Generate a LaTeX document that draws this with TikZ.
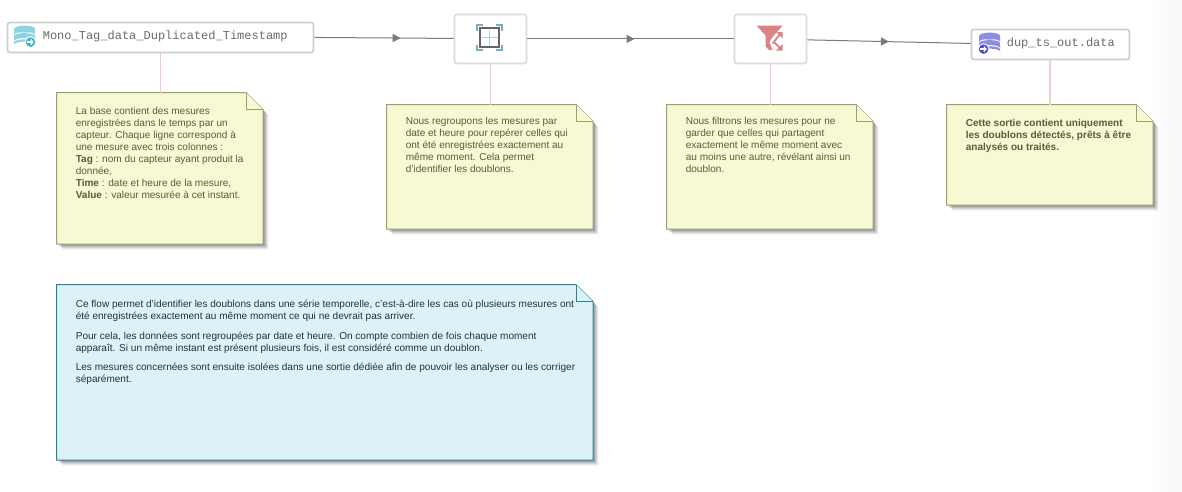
\documentclass[tikz,border=0pt]{standalone}
\usepackage{fontspec}
\setmainfont{Liberation Sans}
\setmonofont{Liberation Mono}
\usetikzlibrary{arrows.meta,calc,decorations.markings}
\definecolor{boxline}{HTML}{CDCDCD}
\definecolor{boxlineb}{HTML}{DCDCDC}
\definecolor{flow}{HTML}{7A7A7A}
\definecolor{notelink}{HTML}{F4C9C7}
\definecolor{notefill}{HTML}{F7F9D3}
\definecolor{noteline}{HTML}{A09C70}
\definecolor{notetext}{HTML}{5F5A3C}
\definecolor{bluefill}{HTML}{DBF3F8}
\definecolor{blueline}{HTML}{2A8299}
\definecolor{bluetext}{HTML}{1F3440}
\definecolor{cyanicon}{HTML}{8FD2E2}
\definecolor{cyandark}{HTML}{3FB0D0}
\definecolor{violeticon}{HTML}{8E8EDD}
\definecolor{violetdark}{HTML}{4A4AC0}
\definecolor{redicon}{HTML}{DF8286}
\definecolor{gridblue}{HTML}{74AFC6}
\definecolor{gridlight}{HTML}{A8D4E4}
\definecolor{griddark}{HTML}{666666}
\definecolor{monotext}{HTML}{6A6A6A}
\tikzset{
  x=1pt,y=-1pt,
  flowbox/.style={draw=boxline,line width=1.7pt,rounded corners=2.5pt,fill=white,inner sep=0pt},
  stepbox/.style={flowbox,draw=boxlineb},
  flowline/.style={draw=flow,line width=1pt},
  linkline/.style={draw=notelink,line width=1.7pt},
  notearea/.style={inner sep=0pt,draw=none},
  notetxt/.style={anchor=north west,inner sep=0pt,align=left,text=notetext,font=\fontsize{10.05}{12}\selectfont},
  bluetxt/.style={anchor=north west,inner sep=0pt,align=left,text=bluetext,font=\fontsize{10.05}{12}\selectfont},
  monolabel/.style={anchor=west,inner sep=0pt,text=monotext,font=\ttfamily\fontsize{12}{12}\selectfont},
  flowtip/.style={postaction={decorate,decoration={markings,mark=at position #1 with {\arrow{Triangle[length=8pt,width=8pt]}}}}}
}
% note: #1 name, #2 left, #3 top, #4 right, #5 bottom, #6 fill, #7 line
\newcommand{\notebox}[7]{%
  \foreach \s/\o in {6/0.05,5/0.07,4/0.09,3/0.11,2/0.13}{
    \fill[black,opacity=\o] (#2+\s,#3+\s) -- (#4-17+\s,#3+\s) -- (#4+\s,#3+17+\s) -- (#4+\s,#5+\s) -- (#2+\s,#5+\s) -- cycle;
  }
  \node[notearea,minimum width=#4pt-#2pt,minimum height=#5pt-#3pt,anchor=north west] (#1) at (#2,#3) {};
  \draw[fill=#6,draw=#7,line width=1pt] (#1.north west) -- ($(#1.north east)+(-17,0)$) -- ($(#1.north east)+(0,17)$) -- (#1.south east) -- (#1.south west) -- cycle;
  \draw[fill=#6,draw=#7,line width=1pt] ($(#1.north east)+(-17,0)$) -- ($(#1.north east)+(-17,17)$) -- ($(#1.north east)+(0,17)$);
}
% database icon: #1 centre x, #2 top y, #3 body colour, #4 badge colour, #5 badge x
\newcommand{\dbicon}[5]{%
  \begin{scope}[shift={(#1,#2)}]
    \fill[#3] (0,3.5) ellipse[x radius=10.5,y radius=3.5];
    \fill[#3] (-10.5,3.5) -- (10.5,3.5) -- (10.5,9.3) arc[x radius=10.5,y radius=3,start angle=0,end angle=-180] -- cycle;
    \fill[#3] (-10.5,10.5) arc[x radius=10.5,y radius=3,start angle=180,end angle=360] -- (10.5,15.5) arc[x radius=10.5,y radius=3,start angle=0,end angle=-180] -- cycle;
    \fill[#3] (-10.5,16.7) arc[x radius=10.5,y radius=3,start angle=180,end angle=360] -- (10.5,19) arc[x radius=10.5,y radius=3,start angle=0,end angle=-180] -- cycle;
    \fill[#4,draw=white,line width=0.9pt] (#5,16.5) circle[radius=5.4];
    \draw[white,line width=1.2pt,-{Straight Barb[length=2.2pt,width=5pt]}] (#5-3.2,16.5) -- (#5+3.2,16.5);
  \end{scope}}
\begin{document}
\begin{tikzpicture}
\useasboundingbox (0.4,0.4) rectangle (1182.4,492.4);
\fill[white] (0,0) rectangle (1183,493);
\shade[left color=white,right color=black!3,shading angle=90] (1148,0) rectangle (1183,493);

% notes
\notebox{n1}{57}{93}{263}{244}{notefill}{noteline}
\notebox{n2}{387}{105}{593}{229}{notefill}{noteline}
\notebox{n3}{667}{105}{873}{229}{notefill}{noteline}
\notebox{n4}{947}{105}{1153}{205}{notefill}{noteline}
\notebox{n5}{57}{285}{593}{460}{bluefill}{blueline}

% flow nodes
\node[flowbox,minimum width=306pt,minimum height=30pt,anchor=north west] (b1) at (7,22) {};
\node[stepbox,minimum width=72pt,minimum height=49pt,anchor=north west] (b2) at (454,14) {};
\node[stepbox,minimum width=72pt,minimum height=49pt,anchor=north west] (b3) at (734,14) {};
\node[flowbox,minimum width=158pt,minimum height=30pt,anchor=north west] (b4) at (971,29) {};

% note links
\draw[linkline] (b1.south) -- (b1.south |- n1.north);
\draw[linkline] (b2.south) -- (b2.south |- n2.north);
\draw[linkline] (b3.south) -- (b3.south |- n3.north);
\draw[linkline] (n4.north |- b4.south) -- (n4.north);

% flows
\draw[flowline,flowtip=0.62] (b1.east) -- ($(b2.west)+(0,-0.5)$);
\draw[flowline,flowtip=0.52] (b2.east) -- (b3.west);
\draw[flowline,flowtip=0.50] ($(b3.east)+(0,0.9)$) -- ($(b4.west)+(0,-1)$);

% labels
\node[monolabel] (t1) at (43,37.2) {Mono\_Tag\_data\_Duplicated\_Timestamp};
\node[monolabel] (t4) at (1007,44.2) {dup\_ts\_out.data};

% icons
\dbicon{25}{26}{cyanicon}{cyandark}{6}
\dbicon{990}{33}{violeticon}{violetdark}{-6}

\begin{scope}[shift={(490,38)}]
  \draw[gridlight,line width=1.1pt] (0,-8) -- (0,8) (-8,0) -- (8,0);
  \draw[griddark,line width=2.2pt] (-9.3,-9.3) rectangle (9.3,9.3);
  \draw[gridblue,line width=2.2pt] (-12.5,-7) -- (-12.5,-12.5) -- (-6.5,-12.5);
  \draw[gridblue,line width=2.2pt] (12.5,-7) -- (12.5,-12.5) -- (6.5,-12.5);
  \draw[gridblue,line width=2.2pt] (-12.5,7) -- (-12.5,12.5) -- (-6.5,12.5);
  \draw[gridblue,line width=2.2pt] (12.5,7) -- (12.5,12.5) -- (6.5,12.5);
\end{scope}

\begin{scope}[shift={(770,38)}]
  \fill[redicon] (-13,-12) -- (13,-12) -- (5,-3) -- (1,2) -- (0,5) -- (3,12.5) -- (-0.5,12.5) -- (-4,9) -- (-4,-2) -- cycle;
  \draw[white,line width=3.6pt] (2.5,6.5) -- (10.5,-3.5);
  \draw[redicon,line width=1.8pt] (3,6) -- (10,-3);
  \fill[redicon] (13,-5.5) -- (6.5,-5.5) -- (13,1) -- cycle;
  \draw[redicon,line width=1.8pt] (5,5) -- (10,10);
  \fill[redicon] (13,13) -- (6.5,13) -- (13,6.5) -- cycle;
\end{scope}

% note texts
\node[notetxt] (x1) at (76,107.8) {La base contient des mesures\\enregistrées dans le temps par un\\capteur. Chaque ligne correspond à\\une mesure avec trois colonnes :\\\textbf{Tag} : nom du capteur ayant produit la\\donnée,\\\textbf{Time} : date et heure de la mesure,\\\textbf{Value} : valeur mesurée à cet instant.};
\node[notetxt] (x2) at (406,117.8) {Nous regroupons les mesures par\\date et heure pour repérer celles qui\\ont été enregistrées exactement au\\même moment. Cela permet\\d'identifier les doublons.};
\node[notetxt] (x3) at (686,117.8) {Nous filtrons les mesures pour ne\\garder que celles qui partagent\\exactement le même moment avec\\au moins une autre, révélant ainsi un\\doublon.};
\node[notetxt,font=\bfseries\fontsize{10.05}{12}\selectfont] (x4) at (966,119.8) {Cette sortie contient uniquement\\les doublons détectés, prêts à être\\analysés ou traités.};
\node[bluetxt] (x5) at (76,299.8) {Ce flow permet d'identifier les doublons dans une série temporelle, c'est-à-dire les cas où plusieurs mesures ont\\été enregistrées exactement au même moment ce qui ne devrait pas arriver.};
\node[bluetxt] (x6) at (76,331.8) {Pour cela, les données sont regroupées par date et heure. On compte combien de fois chaque moment\\apparaît. Si un même instant est présent plusieurs fois, il est considéré comme un doublon.};
\node[bluetxt] (x7) at (76,362.8) {Les mesures concernées sont ensuite isolées dans une sortie dédiée afin de pouvoir les analyser ou les corriger\\séparément.};
\end{tikzpicture}
\end{document}
